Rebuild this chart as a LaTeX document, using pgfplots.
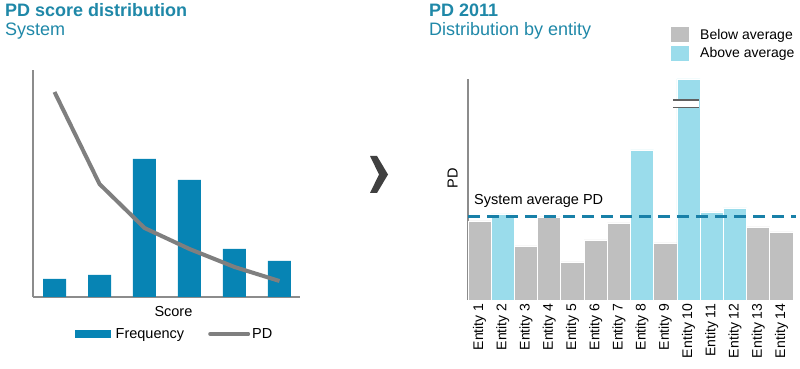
\documentclass[border=0pt]{standalone}
\usepackage{pgfplots}
\pgfplotsset{compat=1.18}
\usepackage{fontspec}
\setmainfont{Liberation Sans}
\definecolor{titleblue}{HTML}{1F88A8}
\definecolor{freqblue}{HTML}{0784B4}
\definecolor{pdgray}{HTML}{7F7F7F}
\definecolor{axisgray}{HTML}{8C8C8C}
\definecolor{barGray}{HTML}{BFBFBF}
\definecolor{barBlue}{HTML}{9ADCEB}
\definecolor{avgblue}{HTML}{1880A8}
\definecolor{breakgray}{HTML}{606060}
\definecolor{chev}{HTML}{404040}
\begin{document}
\begin{tikzpicture}[x=1pt,y=1pt]
\path[use as bounding box] (0,0) rectangle (800,369);
% titles
\node[anchor=base west, inner sep=0, text=titleblue, font=\fontsize{18}{20}\selectfont\bfseries] at (5,352) {PD score distribution};
\node[anchor=base west, inner sep=0, text=titleblue, font=\fontsize{18}{20}\selectfont] at (5,333) {System};
\node[anchor=base west, inner sep=0, text=titleblue, font=\fontsize{18}{20}\selectfont\bfseries] at (429,352) {PD 2011};
\node[anchor=base west, inner sep=0, text=titleblue, font=\fontsize{18}{20}\selectfont] at (429,333) {Distribution by entity};
% chevron
\fill[chev] (370,213) -- (377,213) -- (388,194.5) -- (377,176) -- (370,176) -- (379,194.5) -- cycle;

% left chart
\begin{axis}[
  at={(33pt,72pt)}, anchor=south west, scale only axis,
  width=267pt, height=227pt,
  xmin=-0.478, xmax=5.456, ymin=0, ymax=227,
  axis x line=bottom, axis y line=left,
  axis line style={-, line width=1.2pt, color=axisgray},
  xtick=\empty, ytick=\empty, clip=false,
  font=\fontsize{14.5}{16}\selectfont,
  xlabel={Score},
  xlabel style={at={(axis description cs:0.526,-0.066)}, anchor=center},
  legend columns=2,
  legend style={draw=none, fill=none, at={(axis description cs:0.53,-0.163)}, anchor=center,
    font=\fontsize{14.5}{16}\selectfont,
    /tikz/every even column/.append style={column sep=22pt}},
]
\addplot[ybar, bar width=23pt, fill=freqblue, draw=none,
  legend image code/.code={\fill[freqblue] (0pt,-4pt) rectangle (36pt,4pt); \path (39pt,0pt);}]
  coordinates {(0,18) (1,22) (2,138) (3,117) (4,48) (5,36)};
\addlegendentry{Frequency}
\addplot[line width=4pt, color=pdgray,
  legend image code/.code={\draw[pdgray, line width=4pt, line cap=round] (0pt,0pt) -- (38pt,0pt);}]
  coordinates {(0,205) (1,113) (2,69) (3,48) (4,30) (5,16)};
\addlegendentry{PD}
\end{axis}

% right chart
\begin{axis}[
  at={(468pt,69pt)}, anchor=south west, scale only axis,
  width=325pt, height=221pt,
  xmin=-0.5, xmax=13.5, ymin=0, ymax=221,
  axis x line=bottom, axis y line=left,
  axis line style={-, line width=1.2pt, color=axisgray},
  ytick=\empty,
  xtick={0,...,13},
  xticklabels={Entity 1,Entity 2,Entity 3,Entity 4,Entity 5,Entity 6,Entity 7,Entity 8,Entity 9,Entity 10,Entity 11,Entity 12,Entity 13,Entity 14},
  x tick label style={rotate=90, anchor=east, font=\fontsize{14}{16}\selectfont},
  major tick length=0pt,
  clip=false,
  ylabel={PD},
  ylabel style={at={(axis description cs:-0.047,0.552)}, anchor=center, font=\fontsize{14.5}{16}\selectfont},
  legend cell align=left,
  legend style={draw=none, fill=none, at={(axis description cs:0.616,1.245)}, anchor=north west,
    font=\fontsize{14}{16}\selectfont, row sep=3pt},
]
\addplot[ybar, bar width=23.2pt, bar shift=0pt, fill=barGray, draw=white, line width=0.8pt,
  legend image code/.code={\fill[barGray] (0pt,-7pt) rectangle (17pt,7pt); \path (26pt,0pt);}]
  coordinates {(0,79) (2,54) (3,83) (4,38) (5,60) (6,77) (8,57) (12,73) (13,68)};
\addlegendentry{Below average}
\addplot[ybar, bar width=23.2pt, bar shift=0pt, fill=barBlue, draw=white, line width=0.8pt,
  legend image code/.code={\fill[barBlue] (0pt,-7pt) rectangle (17pt,7pt); \path (26pt,0pt);}]
  coordinates {(1,86) (7,150) (9,221) (10,88) (11,92)};
\addlegendentry{Above average}
\addplot[forget plot, white, line width=6pt] coordinates {(8.45,196.3) (9.45,196.3)};
\addplot[forget plot, breakgray, line width=1.4pt] coordinates {(8.33,200) (9.46,200)};
\addplot[forget plot, breakgray, line width=1.4pt] coordinates {(8.33,192.7) (9.46,192.7)};
\addplot[forget plot, avgblue, line width=3pt, dash pattern=on 12pt off 7pt] coordinates {(-0.5,83) (13.65,83)};
\node[anchor=west, inner sep=0, font=\fontsize{14.5}{16}\selectfont] at (axis cs:-0.24,99) {System average PD};
\end{axis}
\end{tikzpicture}
\end{document}
